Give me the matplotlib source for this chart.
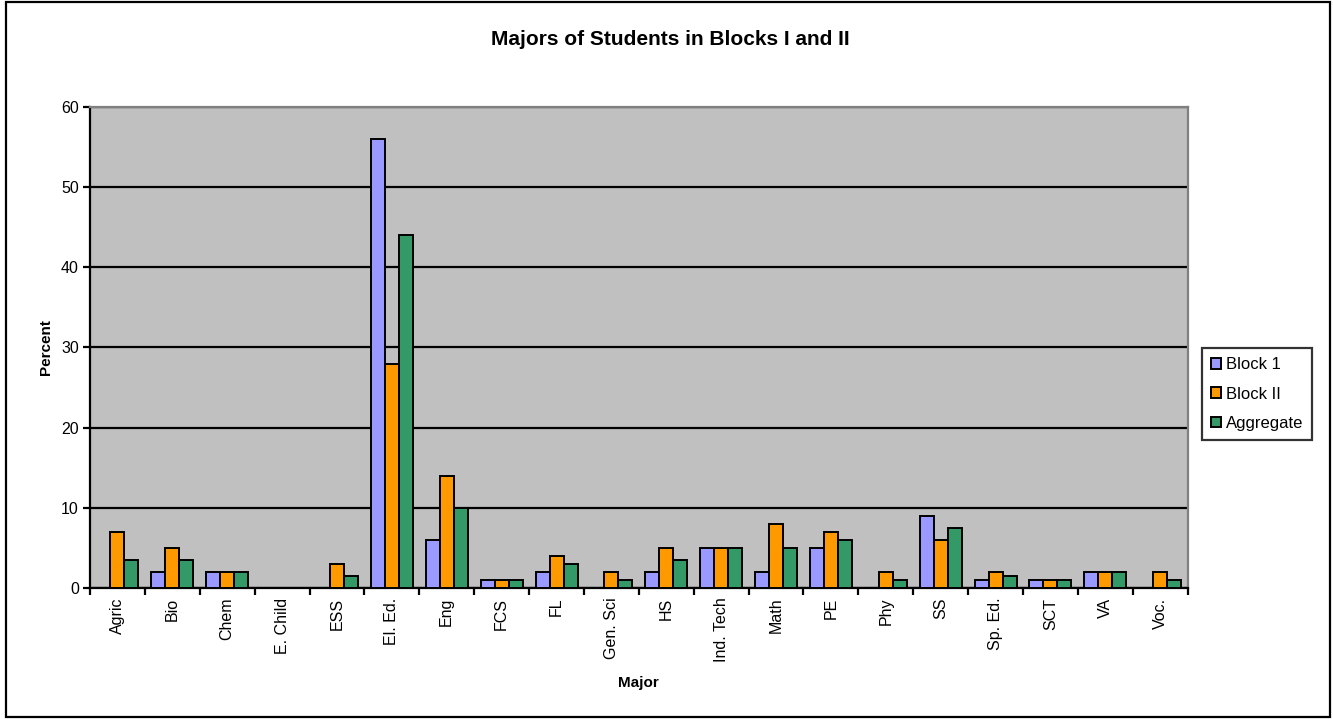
import matplotlib

matplotlib.use("Agg")
import matplotlib.pyplot as plt
import numpy as np
from matplotlib.patches import Rectangle

plt.rcParams["font.family"] = ["Liberation Sans", "DejaVu Sans"]

majors = ["Agric", "Bio", "Chem", "E. Child", "ESS", "El. Ed.", "Eng", "FCS", "FL",
          "Gen. Sci", "HS", "Ind. Tech", "Math", "PE", "Phy", "SS", "Sp. Ed.", "SCT",
          "VA", "Voc."]
block1 = [0, 2, 2, 0, 0, 56, 6, 1, 2, 0, 2, 5, 2, 5, 0, 9, 1, 1, 2, 0]
block2 = [7, 5, 2, 0, 3, 28, 14, 1, 4, 2, 5, 5, 8, 7, 2, 6, 2, 1, 2, 2]
aggregate = [3.5, 3.5, 2, 0, 1.5, 44, 10, 1, 3, 1, 3.5, 5, 5, 6, 1, 7.5, 1.5, 1, 2, 1]

series = [("Block 1", block1, "#9999FF"),
          ("Block II", block2, "#FF9900"),
          ("Aggregate", aggregate, "#339966")]

fig = plt.figure(figsize=(13.33, 7.19), dpi=100)
# outer chart frame
fig.patches.append(Rectangle((6 / 1333, 2 / 719), 1324 / 1333, 715 / 719,
                             transform=fig.transFigure, fill=False,
                             edgecolor="black", lw=1.6))
ax = fig.add_axes([0.0675, 0.1822, 0.8235, 0.669])
ax.set_facecolor("#C0C0C0")

x = np.arange(len(majors))
w = 0.255
for i, (name, vals, col) in enumerate(series):
    ax.bar(x + (i - 1) * w, vals, w, color=col, edgecolor="black", lw=1.4,
           label=name, zorder=3)

ax.set_xlim(-0.5, len(majors) - 0.5)
ax.set_ylim(0, 60)
ax.set_yticks(np.arange(0, 61, 10))
ax.yaxis.grid(True, color="black", lw=1.6, zorder=1)
ax.set_axisbelow(True)

ax.set_xticks(x)
ax.set_xticklabels(majors, rotation=90, fontsize=11.5)
ax.tick_params(axis="x", which="major", length=0, pad=7)
ax.set_xticks(np.arange(-0.5, len(majors), 1), minor=True)
ax.tick_params(axis="x", which="minor", length=5, width=1.6, direction="out")
ax.tick_params(axis="y", length=5, width=1.6, labelsize=11.5, direction="out", pad=3)

for s in ["top", "right"]:
    ax.spines[s].set_color("#808080")
    ax.spines[s].set_linewidth(1.6)
ax.spines["left"].set_linewidth(1.6)
ax.spines["bottom"].set_linewidth(1.6)

ax.set_xlabel("Major", fontsize=11, fontweight="bold", labelpad=10)
ax.set_ylabel("Percent", fontsize=11, fontweight="bold", labelpad=6)
fig.suptitle("Majors of Students in Blocks I and II", fontsize=15, fontweight="bold",
             x=0.503, y=0.958)

leg = fig.legend(loc="center left", bbox_to_anchor=(0.9015, 0.452), fontsize=12,
                 frameon=True, fancybox=False, edgecolor="black", handlelength=0.6,
                 handleheight=0.6, handletextpad=0.3, labelspacing=0.85,
                 borderpad=0.55, borderaxespad=0)
leg.get_frame().set_linewidth(1.6)

fig.savefig("out.png", dpi=100)
